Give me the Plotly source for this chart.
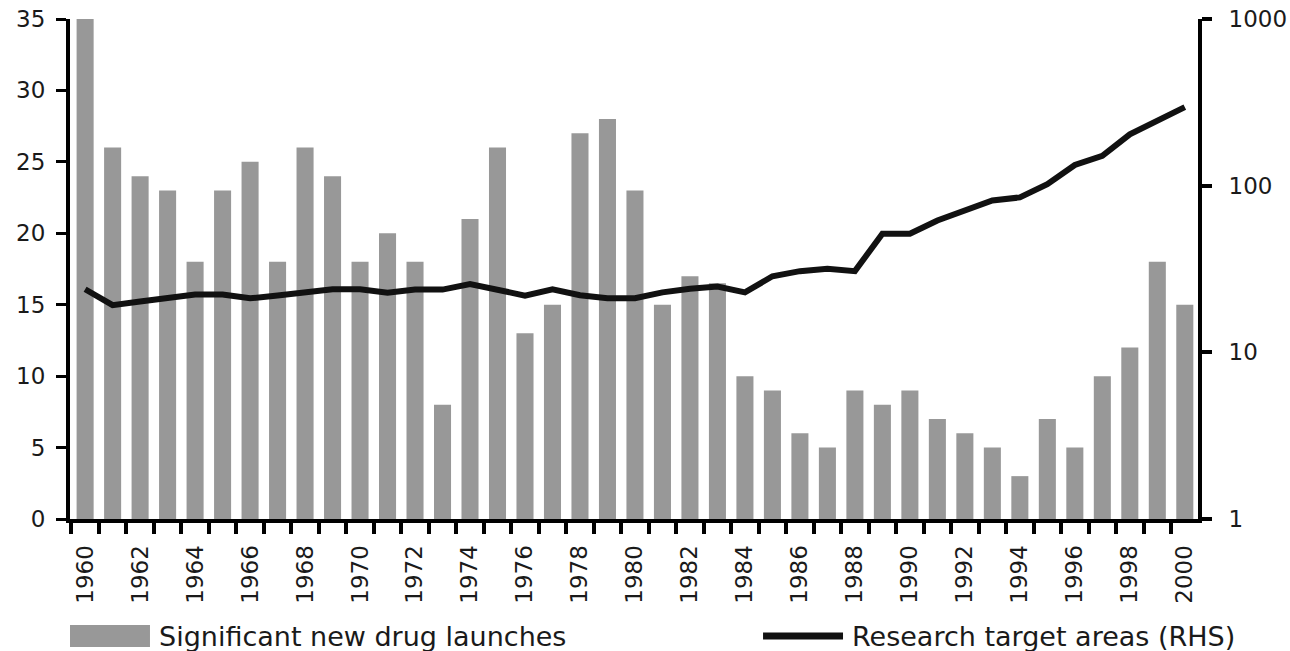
import plotly.graph_objects as go

years = list(range(1960, 2001))
drug_launches = [35, 26, 24, 23, 18, 23, 25, 18, 26, 24,
                 18, 20, 18, 8, 21, 26, 13, 15, 27, 28,
                 23, 15, 17, 16.5, 10, 9, 6, 5, 9, 8,
                 9, 7, 6, 5, 3, 7, 5, 10, 12, 18, 15]
research_targets = [23.9, 19.2, 20.2, 21.3, 22.2, 22.2, 21.1, 21.9, 22.9, 23.9,
                    23.9, 22.8, 23.8, 23.8, 25.7, 23.9, 21.9, 23.9, 22.0, 21.1,
                    21.1, 22.9, 24.1, 24.8, 22.9, 28.6, 30.7, 31.7, 30.7, 51.5,
                    51.5, 61.8, 71.0, 81.5, 85.0, 102, 133, 151, 203, 247, 296]
left_ticks = [0, 5, 10, 15, 20, 25, 30, 35]
right_ticks = [1, 10, 100, 1000]
x_labels = [str(y) for y in years[::2]]
bar_name = "Significant new drug launches"
line_name = "Research target areas (RHS)"

BAR_COLOR = "#989898"
LINE_COLOR = "#111111"
TEXT_COLOR = "#1a1a1a"
FONT = "DejaVu Sans"

fig = go.Figure()
fig.add_trace(go.Bar(x=years, y=drug_launches, name=bar_name, marker_color=BAR_COLOR,
                     marker_line_width=0, width=0.62, yaxis="y", showlegend=False))
fig.add_trace(go.Scatter(x=years, y=research_targets, name=line_name, mode="lines",
                         line=dict(color=LINE_COLOR, width=6), yaxis="y2", showlegend=False))

boundaries = [y - 0.5 for y in years] + [years[-1] + 0.5]

fig.update_layout(
    width=1290, height=651,
    margin=dict(l=70, r=92, t=19, b=132, autoexpand=False),
    paper_bgcolor="white", plot_bgcolor="white",
    font=dict(family=FONT, size=23, color=TEXT_COLOR),
    xaxis=dict(
        range=[1959.45, 2000.48], automargin=False,
        tickmode="array", tickvals=years[::2], ticktext=x_labels,
        tickangle=-90, ticks="outside", ticklen=13, tickcolor="rgba(0,0,0,0)",
        showline=True, linecolor="black", linewidth=4,
        showgrid=False, zeroline=False,
        minor=dict(tickmode="array", tickvals=boundaries, ticks="outside",
                   ticklen=11, tickwidth=4, tickcolor="black", showgrid=False),
        tickfont=dict(size=23),
    ),
    yaxis=dict(
        range=[0, 35], tickmode="array", tickvals=left_ticks, automargin=False,
        ticks="outside", ticklen=10, tickwidth=3, tickcolor="black",
        showline=True, linecolor="black", linewidth=4,
        showgrid=False, zeroline=False, ticklabelstandoff=6,
    ),
    yaxis2=dict(
        type="log", range=[0, 3], overlaying="y", side="right", automargin=False,
        tickmode="array", tickvals=right_ticks, ticktext=[str(v) for v in right_ticks],
        ticks="outside", ticklen=10, tickwidth=4, tickcolor="black",
        showline=True, linecolor="black", linewidth=4,
        showgrid=False, zeroline=False, ticklabelstandoff=12,
    ),
    showlegend=False,
)

# custom legend below the chart
leg_y = -0.234
fig.add_shape(type="rect", xref="paper", yref="paper", x0=0.0, x1=0.0709,
              y0=leg_y - 0.022, y1=leg_y + 0.022, fillcolor=BAR_COLOR, line_width=0)
fig.add_annotation(xref="paper", yref="paper", x=0.0771, y=leg_y, text=bar_name,
                   showarrow=False, xanchor="left", yanchor="middle",
                   font=dict(family=FONT, size=27, color=TEXT_COLOR))
fig.add_shape(type="line", xref="paper", yref="paper", x0=0.6144, x1=0.6853,
              y0=leg_y, y1=leg_y, line=dict(color=LINE_COLOR, width=7))
fig.add_annotation(xref="paper", yref="paper", x=0.6915, y=leg_y, text=line_name,
                   showarrow=False, xanchor="left", yanchor="middle",
                   font=dict(family=FONT, size=27, color=TEXT_COLOR))

fig.write_html("out.html", config={"displayModeBar": False},
               post_script="document.body.style.margin='0px';document.body.style.overflow='hidden';")
